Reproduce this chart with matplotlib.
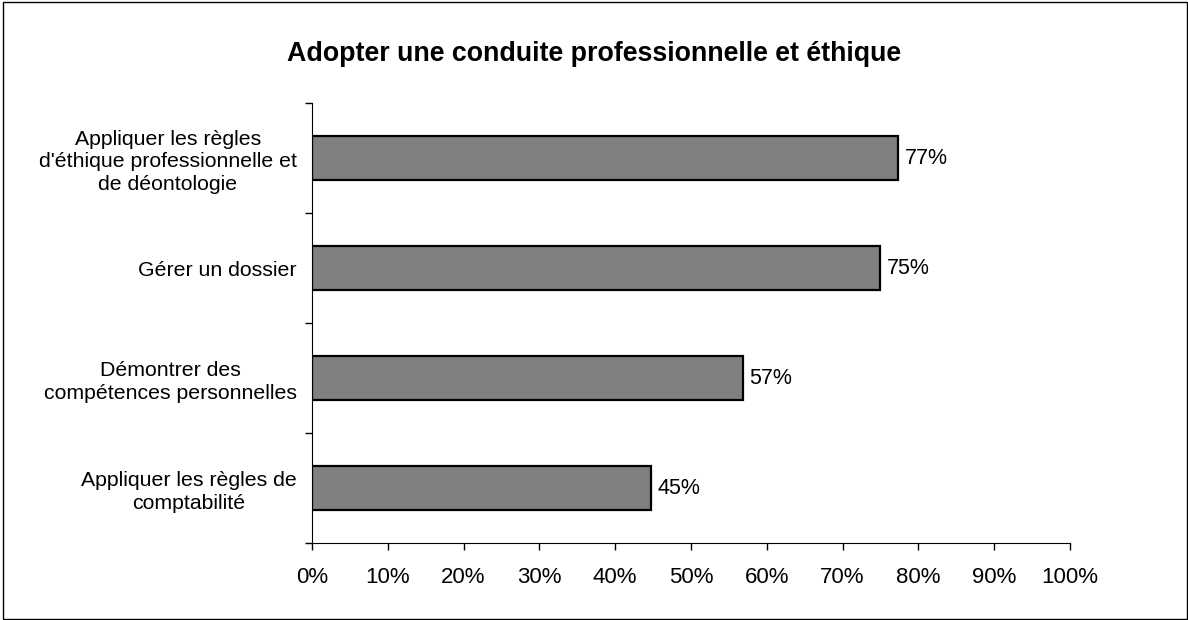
import matplotlib.pyplot as plt
from matplotlib.patches import Rectangle
from matplotlib.ticker import FixedLocator, NullFormatter

plt.rcParams['font.family'] = ['Liberation Sans', 'DejaVu Sans']

categories = [
    "Appliquer les règles de\ncomptabilité",
    "Démontrer des\ncompétences personnelles",
    "Gérer un dossier",
    "Appliquer les règles\nd'éthique professionnelle et\nde déontologie",
]
values = [44.7, 56.8, 74.9, 77.3]
value_labels = ["45%", "57%", "75%", "77%"]
x_ticks = list(range(0, 101, 10))

fig = plt.figure(figsize=(11.88, 6.2), dpi=100)
ax = fig.add_axes([312 / 1188, 1 - 543 / 620, (1070 - 312) / 1188, (543 - 103) / 620])

pos = list(range(len(categories)))
ax.barh(pos, values, height=0.4, color='#808080', edgecolor='black', linewidth=1.6)
for p, v, lab in zip(pos, values, value_labels):
    ax.text(v + 0.9, p, lab, va='center', ha='left', fontsize=15.5)

ax.set_xlim(0, 100)
ax.set_ylim(-0.5, len(categories) - 0.5)
ax.set_xticks(x_ticks)
ax.set_xticklabels([f"{t}%" for t in x_ticks], fontsize=16)
ax.set_yticks(pos)
ax.set_yticklabels(categories, fontsize=15.3, multialignment='center', linespacing=1.25)
ax.tick_params(axis='y', length=0, pad=11)
ax.yaxis.set_minor_locator(FixedLocator([p - 0.5 for p in range(len(categories) + 1)]))
ax.yaxis.set_minor_formatter(NullFormatter())
ax.tick_params(axis='y', which='minor', length=5, width=1)
ax.tick_params(axis='x', length=5, width=1, pad=12)
for s in ['top', 'right']:
    ax.spines[s].set_visible(False)

fig.text(0.5, 1 - 54 / 620, "Adopter une conduite professionnelle et éthique",
         ha='center', va='center', fontsize=19.3, fontweight='bold')

fig.patches.append(Rectangle((3 / 1188, 0.002), 1 - 4 / 1188, 1 - 0.002 - 2 / 620,
                             transform=fig.transFigure, fill=False,
                             edgecolor='black', linewidth=1))

fig.savefig("out.png", dpi=100)
